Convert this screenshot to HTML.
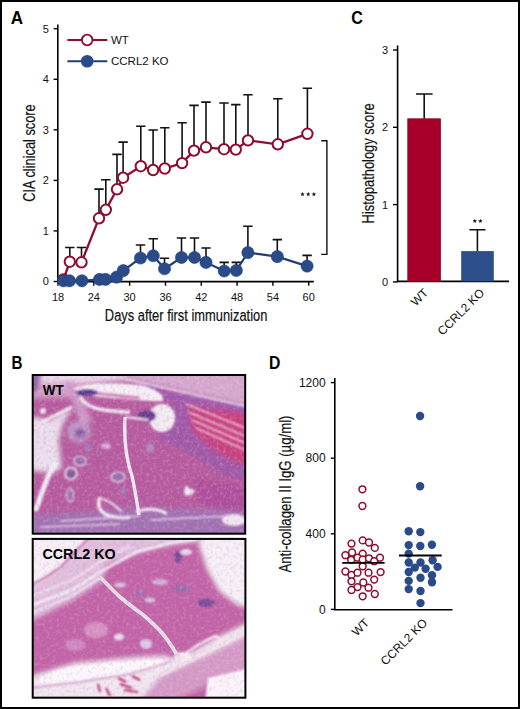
<!DOCTYPE html>
<html><head><meta charset="utf-8"><style>
html,body{margin:0;padding:0;background:#fff;}
body{width:520px;height:709px;overflow:hidden;position:relative;}
#fig{position:absolute;left:0;top:0;width:520px;height:709px;box-sizing:border-box;border:2px solid #000;background:#fff;}
svg{position:absolute;left:0;top:0;font-family:"Liberation Sans", sans-serif;}
</style></head><body>
<div id="fig"></div>
<svg width="520" height="709" viewBox="0 0 520 709">
<defs>
<clipPath id="c1"><rect x="32.7" y="375" width="212.5" height="158.7"/></clipPath>
<clipPath id="c2"><rect x="32.7" y="538.9" width="212.7" height="158.8"/></clipPath>
<filter id="b1" x="-20%" y="-20%" width="140%" height="140%"><feGaussianBlur stdDeviation="1.2"/></filter>
<filter id="b2" x="-20%" y="-20%" width="140%" height="140%"><feGaussianBlur stdDeviation="2.5"/></filter>
<filter id="b3" x="-20%" y="-20%" width="140%" height="140%"><feGaussianBlur stdDeviation="0.6"/></filter>
<filter id="tw" x="0" y="0" width="100%" height="100%"><feTurbulence type="fractalNoise" baseFrequency="0.3" numOctaves="3" seed="4"/><feColorMatrix type="matrix" values="0 0 0 0 0.97  0 0 0 0 0.9  0 0 0 0 0.96  2 0 0 0 -0.95"/></filter>
<filter id="td" x="0" y="0" width="100%" height="100%"><feTurbulence type="fractalNoise" baseFrequency="0.3" numOctaves="3" seed="9"/><feColorMatrix type="matrix" values="0 0 0 0 0.45  0 0 0 0 0.2  0 0 0 0 0.55  2 0 0 0 -0.95"/></filter>
</defs>
<text transform="translate(10.7,23.7) scale(0.93,1)" font-size="18.4" text-anchor="start" font-weight="bold" fill="#000">A</text>
<path d="M57.8 24.6 V281.6 H313.8" fill="none" stroke="#000" stroke-width="1.6"/>
<line x1="53.6" y1="281.5" x2="57.8" y2="281.5" stroke="#000" stroke-width="1.4"/>
<text x="48.8" y="285.4" font-size="11" text-anchor="end" font-weight="normal" fill="#111" >0</text>
<line x1="53.6" y1="230.9" x2="57.8" y2="230.9" stroke="#000" stroke-width="1.4"/>
<text x="48.8" y="234.8" font-size="11" text-anchor="end" font-weight="normal" fill="#111" >1</text>
<line x1="53.6" y1="180.4" x2="57.8" y2="180.4" stroke="#000" stroke-width="1.4"/>
<text x="48.8" y="184.3" font-size="11" text-anchor="end" font-weight="normal" fill="#111" >2</text>
<line x1="53.6" y1="129.8" x2="57.8" y2="129.8" stroke="#000" stroke-width="1.4"/>
<text x="48.8" y="133.70000000000002" font-size="11" text-anchor="end" font-weight="normal" fill="#111" >3</text>
<line x1="53.6" y1="79.3" x2="57.8" y2="79.3" stroke="#000" stroke-width="1.4"/>
<text x="48.8" y="83.2" font-size="11" text-anchor="end" font-weight="normal" fill="#111" >4</text>
<line x1="53.6" y1="28.7" x2="57.8" y2="28.7" stroke="#000" stroke-width="1.4"/>
<text x="48.8" y="32.6" font-size="11" text-anchor="end" font-weight="normal" fill="#111" >5</text>
<line x1="58.0" y1="281.6" x2="58.0" y2="285.8" stroke="#000" stroke-width="1.4"/>
<text x="58.0" y="300.9" font-size="11" text-anchor="middle" font-weight="normal" fill="#111" >18</text>
<line x1="93.8" y1="281.6" x2="93.8" y2="285.8" stroke="#000" stroke-width="1.4"/>
<text x="93.8" y="300.9" font-size="11" text-anchor="middle" font-weight="normal" fill="#111" >24</text>
<line x1="129.6" y1="281.6" x2="129.6" y2="285.8" stroke="#000" stroke-width="1.4"/>
<text x="129.6" y="300.9" font-size="11" text-anchor="middle" font-weight="normal" fill="#111" >30</text>
<line x1="165.5" y1="281.6" x2="165.5" y2="285.8" stroke="#000" stroke-width="1.4"/>
<text x="165.5" y="300.9" font-size="11" text-anchor="middle" font-weight="normal" fill="#111" >36</text>
<line x1="201.3" y1="281.6" x2="201.3" y2="285.8" stroke="#000" stroke-width="1.4"/>
<text x="201.3" y="300.9" font-size="11" text-anchor="middle" font-weight="normal" fill="#111" >42</text>
<line x1="237.1" y1="281.6" x2="237.1" y2="285.8" stroke="#000" stroke-width="1.4"/>
<text x="237.1" y="300.9" font-size="11" text-anchor="middle" font-weight="normal" fill="#111" >48</text>
<line x1="272.9" y1="281.6" x2="272.9" y2="285.8" stroke="#000" stroke-width="1.4"/>
<text x="272.9" y="300.9" font-size="11" text-anchor="middle" font-weight="normal" fill="#111" >54</text>
<line x1="308.7" y1="281.6" x2="308.7" y2="285.8" stroke="#000" stroke-width="1.4"/>
<text x="308.7" y="300.9" font-size="11" text-anchor="middle" font-weight="normal" fill="#111" >60</text>
<text x="186.1" y="321.1" font-size="16.3" text-anchor="middle" fill="#111" stroke="#111" stroke-width="0.2" textLength="162.5" lengthAdjust="spacingAndGlyphs">Days after first immunization</text>
<text transform="translate(34.5,153.0) rotate(-90)" x="0" y="0" font-size="16.3" text-anchor="middle" fill="#111" stroke="#111" stroke-width="0.2" textLength="97.5" lengthAdjust="spacingAndGlyphs">CIA clinical score</text>
<path d="M69.8 256.7 V247.5 M65.1 247.5 H74.5" stroke="#111" stroke-width="1.6" fill="none"/>
<path d="M81.5 257.3 V247.5 M76.8 247.5 H86.2" stroke="#111" stroke-width="1.6" fill="none"/>
<path d="M99 213.3 V189.1 M94.3 189.1 H103.7" stroke="#111" stroke-width="1.6" fill="none"/>
<path d="M105.8 204.8 V179.8 M101.1 179.8 H110.5" stroke="#111" stroke-width="1.6" fill="none"/>
<path d="M117 184.3 V154.4 M112.3 154.4 H121.7" stroke="#111" stroke-width="1.6" fill="none"/>
<path d="M123.1 172.7 V142.1 M118.39999999999999 142.1 H127.8" stroke="#111" stroke-width="1.6" fill="none"/>
<path d="M140.8 161.2 V126.2 M136.10000000000002 126.2 H145.5" stroke="#111" stroke-width="1.6" fill="none"/>
<path d="M153.1 165 V130 M148.4 130 H157.79999999999998" stroke="#111" stroke-width="1.6" fill="none"/>
<path d="M164.8 163.5 V127.7 M160.10000000000002 127.7 H169.5" stroke="#111" stroke-width="1.6" fill="none"/>
<path d="M182.1 158.1 V122.7 M177.4 122.7 H186.79999999999998" stroke="#111" stroke-width="1.6" fill="none"/>
<path d="M194 145.6 V105.4 M189.3 105.4 H198.7" stroke="#111" stroke-width="1.6" fill="none"/>
<path d="M206 142.3 V102.1 M201.3 102.1 H210.7" stroke="#111" stroke-width="1.6" fill="none"/>
<path d="M224 144.2 V103 M219.3 103 H228.7" stroke="#111" stroke-width="1.6" fill="none"/>
<path d="M235.8 144.6 V104.6 M231.10000000000002 104.6 H240.5" stroke="#111" stroke-width="1.6" fill="none"/>
<path d="M248 135.4 V94.7 M243.3 94.7 H252.7" stroke="#111" stroke-width="1.6" fill="none"/>
<path d="M277.8 139.3 V98.8 M273.1 98.8 H282.5" stroke="#111" stroke-width="1.6" fill="none"/>
<path d="M307.4 128.8 V88.3 M302.7 88.3 H312.09999999999997" stroke="#111" stroke-width="1.6" fill="none"/>
<polyline points="63.5,279.5 69.8,261.7 81.5,262.3 99,218.3 105.8,209.8 117,189.3 123.1,177.7 140.8,166.2 153.1,170 164.8,168.5 182.1,163.1 194,150.6 206,147.3 224,149.2 235.8,149.6 248,140.4 277.8,144.3 307.4,133.8" fill="none" stroke="#8e0c2e" stroke-width="2.3"/>
<circle cx="63.5" cy="279.5" r="5.2" fill="#fff" stroke="#8e0c2e" stroke-width="2"/>
<circle cx="69.8" cy="261.7" r="5.2" fill="#fff" stroke="#8e0c2e" stroke-width="2"/>
<circle cx="81.5" cy="262.3" r="5.2" fill="#fff" stroke="#8e0c2e" stroke-width="2"/>
<circle cx="99" cy="218.3" r="5.2" fill="#fff" stroke="#8e0c2e" stroke-width="2"/>
<circle cx="105.8" cy="209.8" r="5.2" fill="#fff" stroke="#8e0c2e" stroke-width="2"/>
<circle cx="117" cy="189.3" r="5.2" fill="#fff" stroke="#8e0c2e" stroke-width="2"/>
<circle cx="123.1" cy="177.7" r="5.2" fill="#fff" stroke="#8e0c2e" stroke-width="2"/>
<circle cx="140.8" cy="166.2" r="5.2" fill="#fff" stroke="#8e0c2e" stroke-width="2"/>
<circle cx="153.1" cy="170" r="5.2" fill="#fff" stroke="#8e0c2e" stroke-width="2"/>
<circle cx="164.8" cy="168.5" r="5.2" fill="#fff" stroke="#8e0c2e" stroke-width="2"/>
<circle cx="182.1" cy="163.1" r="5.2" fill="#fff" stroke="#8e0c2e" stroke-width="2"/>
<circle cx="194" cy="150.6" r="5.2" fill="#fff" stroke="#8e0c2e" stroke-width="2"/>
<circle cx="206" cy="147.3" r="5.2" fill="#fff" stroke="#8e0c2e" stroke-width="2"/>
<circle cx="224" cy="149.2" r="5.2" fill="#fff" stroke="#8e0c2e" stroke-width="2"/>
<circle cx="235.8" cy="149.6" r="5.2" fill="#fff" stroke="#8e0c2e" stroke-width="2"/>
<circle cx="248" cy="140.4" r="5.2" fill="#fff" stroke="#8e0c2e" stroke-width="2"/>
<circle cx="277.8" cy="144.3" r="5.2" fill="#fff" stroke="#8e0c2e" stroke-width="2"/>
<circle cx="307.4" cy="133.8" r="5.2" fill="#fff" stroke="#8e0c2e" stroke-width="2"/>
<path d="M140.5 253 V245 M135.8 245 H145.2" stroke="#111" stroke-width="1.6" fill="none"/>
<path d="M153.25 250.75 V238.75 M148.55 238.75 H157.95" stroke="#111" stroke-width="1.6" fill="none"/>
<path d="M164.5 263.75 V258.25 M159.8 258.25 H169.2" stroke="#111" stroke-width="1.6" fill="none"/>
<path d="M181.5 252.5 V238 M176.8 238 H186.2" stroke="#111" stroke-width="1.6" fill="none"/>
<path d="M194.5 252.5 V238 M189.8 238 H199.2" stroke="#111" stroke-width="1.6" fill="none"/>
<path d="M206 257.4 V248 M201.3 248 H210.7" stroke="#111" stroke-width="1.6" fill="none"/>
<path d="M224.2 266 V262.4 M219.5 262.4 H228.89999999999998" stroke="#111" stroke-width="1.6" fill="none"/>
<path d="M236.3 265.5 V262.4 M231.60000000000002 262.4 H241.0" stroke="#111" stroke-width="1.6" fill="none"/>
<path d="M247.9 247.6 V226.3 M243.20000000000002 226.3 H252.6" stroke="#111" stroke-width="1.6" fill="none"/>
<path d="M277.3 251.60000000000002 V239.6 M272.6 239.6 H282.0" stroke="#111" stroke-width="1.6" fill="none"/>
<path d="M307.1 261.1 V255.4 M302.40000000000003 255.4 H311.8" stroke="#111" stroke-width="1.6" fill="none"/>
<polyline points="63.5,280.8 69.5,280.8 81.9,280.8 99.5,279.4 105.5,279.4 116.5,277.2 123.3,270.6 140.5,258 153.25,255.75 164.5,268.75 181.5,257.5 194.5,257.5 206,262.4 224.2,271 236.3,270.5 247.9,252.6 277.3,256.6 307.1,266.1" fill="none" stroke="#223f73" stroke-width="2.2"/>
<circle cx="63.5" cy="280.8" r="6.1" fill="#2b4b88" stroke="#213f78" stroke-width="0.6"/>
<circle cx="69.5" cy="280.8" r="6.1" fill="#2b4b88" stroke="#213f78" stroke-width="0.6"/>
<circle cx="81.9" cy="280.8" r="6.1" fill="#2b4b88" stroke="#213f78" stroke-width="0.6"/>
<circle cx="99.5" cy="279.4" r="6.1" fill="#2b4b88" stroke="#213f78" stroke-width="0.6"/>
<circle cx="105.5" cy="279.4" r="6.1" fill="#2b4b88" stroke="#213f78" stroke-width="0.6"/>
<circle cx="116.5" cy="277.2" r="6.1" fill="#2b4b88" stroke="#213f78" stroke-width="0.6"/>
<circle cx="123.3" cy="270.6" r="6.1" fill="#2b4b88" stroke="#213f78" stroke-width="0.6"/>
<circle cx="140.5" cy="258" r="6.1" fill="#2b4b88" stroke="#213f78" stroke-width="0.6"/>
<circle cx="153.25" cy="255.75" r="6.1" fill="#2b4b88" stroke="#213f78" stroke-width="0.6"/>
<circle cx="164.5" cy="268.75" r="6.1" fill="#2b4b88" stroke="#213f78" stroke-width="0.6"/>
<circle cx="181.5" cy="257.5" r="6.1" fill="#2b4b88" stroke="#213f78" stroke-width="0.6"/>
<circle cx="194.5" cy="257.5" r="6.1" fill="#2b4b88" stroke="#213f78" stroke-width="0.6"/>
<circle cx="206" cy="262.4" r="6.1" fill="#2b4b88" stroke="#213f78" stroke-width="0.6"/>
<circle cx="224.2" cy="271" r="6.1" fill="#2b4b88" stroke="#213f78" stroke-width="0.6"/>
<circle cx="236.3" cy="270.5" r="6.1" fill="#2b4b88" stroke="#213f78" stroke-width="0.6"/>
<circle cx="247.9" cy="252.6" r="6.1" fill="#2b4b88" stroke="#213f78" stroke-width="0.6"/>
<circle cx="277.3" cy="256.6" r="6.1" fill="#2b4b88" stroke="#213f78" stroke-width="0.6"/>
<circle cx="307.1" cy="266.1" r="6.1" fill="#2b4b88" stroke="#213f78" stroke-width="0.6"/>
<path d="M321.2 140.7 H326.9 V254.4 H321.2" fill="none" stroke="#111" stroke-width="1.4"/>
<polygon points="302.50,191.80 303.09,193.39 304.78,193.46 303.45,194.51 303.91,196.14 302.50,195.20 301.09,196.14 301.55,194.51 300.22,193.46 301.91,193.39" fill="#111"/>
<polygon points="308.20,191.80 308.79,193.39 310.48,193.46 309.15,194.51 309.61,196.14 308.20,195.20 306.79,196.14 307.25,194.51 305.92,193.46 307.61,193.39" fill="#111"/>
<polygon points="313.90,191.80 314.49,193.39 316.18,193.46 314.85,194.51 315.31,196.14 313.90,195.20 312.49,196.14 312.95,194.51 311.62,193.46 313.31,193.39" fill="#111"/>
<line x1="67.4" y1="40" x2="107.3" y2="40" stroke="#8e0c2e" stroke-width="2"/>
<circle cx="87.2" cy="40" r="5.3" fill="#fff" stroke="#8e0c2e" stroke-width="1.8"/>
<line x1="67.4" y1="61.2" x2="107.3" y2="61.2" stroke="#223f73" stroke-width="2"/>
<circle cx="87.2" cy="61.2" r="6.3" fill="#2b4b88"/>
<text x="111" y="44.0" font-size="11.5" text-anchor="start" font-weight="normal" fill="#111" >WT</text>
<text x="111" y="65.2" font-size="11.5" text-anchor="start" font-weight="normal" fill="#111" >CCRL2 KO</text>
<text transform="translate(351.2,23.6) scale(0.88,1)" font-size="18.3" text-anchor="start" font-weight="bold" fill="#000">C</text>
<path d="M397.6 45.4 V281.4 H509" fill="none" stroke="#000" stroke-width="1.6"/>
<line x1="393" y1="281.9" x2="397.6" y2="281.9" stroke="#000" stroke-width="1.4"/>
<text x="388" y="285.8" font-size="11" text-anchor="end" font-weight="normal" fill="#111" >0</text>
<line x1="393" y1="204.6" x2="397.6" y2="204.6" stroke="#000" stroke-width="1.4"/>
<text x="388" y="208.5" font-size="11" text-anchor="end" font-weight="normal" fill="#111" >1</text>
<line x1="393" y1="127.3" x2="397.6" y2="127.3" stroke="#000" stroke-width="1.4"/>
<text x="388" y="131.2" font-size="11" text-anchor="end" font-weight="normal" fill="#111" >2</text>
<line x1="393" y1="50.0" x2="397.6" y2="50.0" stroke="#000" stroke-width="1.4"/>
<text x="388" y="53.9" font-size="11" text-anchor="end" font-weight="normal" fill="#111" >3</text>
<path d="M424.2 118.8 V94 M416 94 H432.6" stroke="#111" stroke-width="1.6" fill="none"/>
<rect x="407.8" y="118.8" width="32.6" height="162.6" fill="#a6002a" stroke="#8c0022" stroke-width="0.8"/>
<path d="M477.4 251 V229.7 M469.4 229.7 H485.5" stroke="#111" stroke-width="1.6" fill="none"/>
<rect x="461.2" y="251.1" width="32.6" height="30.3" fill="#2c4e8a"/>
<polygon points="474.80,218.70 475.39,220.29 477.08,220.36 475.75,221.41 476.21,223.04 474.80,222.10 473.39,223.04 473.85,221.41 472.52,220.36 474.21,220.29" fill="#111"/>
<polygon points="480.40,218.70 480.99,220.29 482.68,220.36 481.35,221.41 481.81,223.04 480.40,222.10 478.99,223.04 479.45,221.41 478.12,220.36 479.81,220.29" fill="#111"/>
<text transform="translate(373.6,163.4) rotate(-90)" font-size="16.3" text-anchor="middle" fill="#111" stroke="#111" stroke-width="0.2" textLength="120" lengthAdjust="spacingAndGlyphs">Histopathology score</text>
<text transform="translate(429,293.6) rotate(-45)" font-size="12" text-anchor="end" fill="#111">WT</text>
<text transform="translate(485,293.6) rotate(-45)" font-size="12" text-anchor="end" fill="#111">CCRL2 KO</text>
<text transform="translate(269.0,369.4) scale(0.86,1)" font-size="18.3" text-anchor="start" font-weight="bold" fill="#000">D</text>
<path d="M334.8 378 V609.7 H452.5" fill="none" stroke="#000" stroke-width="1.6"/>
<line x1="330.8" y1="609.4" x2="334.8" y2="609.4" stroke="#000" stroke-width="1.4"/>
<text x="325.6" y="613.6" font-size="12" text-anchor="end" font-weight="normal" fill="#111" >0</text>
<line x1="330.8" y1="533.8" x2="334.8" y2="533.8" stroke="#000" stroke-width="1.4"/>
<text x="325.6" y="538.0" font-size="12" text-anchor="end" font-weight="normal" fill="#111" >400</text>
<line x1="330.8" y1="458.2" x2="334.8" y2="458.2" stroke="#000" stroke-width="1.4"/>
<text x="325.6" y="462.4" font-size="12" text-anchor="end" font-weight="normal" fill="#111" >800</text>
<line x1="330.8" y1="382.6" x2="334.8" y2="382.6" stroke="#000" stroke-width="1.4"/>
<text x="325.6" y="386.8" font-size="12" text-anchor="end" font-weight="normal" fill="#111" >1200</text>
<text transform="translate(291.3,494) rotate(-90)" font-size="16.3" text-anchor="middle" fill="#111" stroke="#111" stroke-width="0.2" textLength="157" lengthAdjust="spacingAndGlyphs">Anti-collagen II IgG (µg/ml)</text>
<text transform="translate(370,623.6) rotate(-45)" font-size="12" text-anchor="end" fill="#111">WT</text>
<text transform="translate(428,623.6) rotate(-45)" font-size="12" text-anchor="end" fill="#111">CCRL2 KO</text>
<circle cx="351.5" cy="543.6" r="3.4" fill="#fff" stroke="#8e0c2e" stroke-width="1.5"/>
<circle cx="362.7" cy="540.4" r="3.4" fill="#fff" stroke="#8e0c2e" stroke-width="1.5"/>
<circle cx="369.0" cy="542.5" r="3.4" fill="#fff" stroke="#8e0c2e" stroke-width="1.5"/>
<circle cx="374.8" cy="547.9" r="3.4" fill="#fff" stroke="#8e0c2e" stroke-width="1.5"/>
<circle cx="345.4" cy="555.2" r="3.4" fill="#fff" stroke="#8e0c2e" stroke-width="1.5"/>
<circle cx="352.1" cy="552.5" r="3.4" fill="#fff" stroke="#8e0c2e" stroke-width="1.5"/>
<circle cx="362.7" cy="553.7" r="3.4" fill="#fff" stroke="#8e0c2e" stroke-width="1.5"/>
<circle cx="380.0" cy="557.7" r="3.4" fill="#fff" stroke="#8e0c2e" stroke-width="1.5"/>
<circle cx="351.2" cy="559.8" r="3.4" fill="#fff" stroke="#8e0c2e" stroke-width="1.5"/>
<circle cx="357.5" cy="557.7" r="3.4" fill="#fff" stroke="#8e0c2e" stroke-width="1.5"/>
<circle cx="362.7" cy="559.4" r="3.4" fill="#fff" stroke="#8e0c2e" stroke-width="1.5"/>
<circle cx="369" cy="558.3" r="3.4" fill="#fff" stroke="#8e0c2e" stroke-width="1.5"/>
<circle cx="374.2" cy="561.2" r="3.4" fill="#fff" stroke="#8e0c2e" stroke-width="1.5"/>
<circle cx="362.7" cy="566.3" r="3.4" fill="#fff" stroke="#8e0c2e" stroke-width="1.5"/>
<circle cx="345.4" cy="571.5" r="3.4" fill="#fff" stroke="#8e0c2e" stroke-width="1.5"/>
<circle cx="351.5" cy="575" r="3.4" fill="#fff" stroke="#8e0c2e" stroke-width="1.5"/>
<circle cx="357.5" cy="572.7" r="3.4" fill="#fff" stroke="#8e0c2e" stroke-width="1.5"/>
<circle cx="368.5" cy="572.7" r="3.4" fill="#fff" stroke="#8e0c2e" stroke-width="1.5"/>
<circle cx="380.6" cy="572.1" r="3.4" fill="#fff" stroke="#8e0c2e" stroke-width="1.5"/>
<circle cx="351.5" cy="581.3" r="3.4" fill="#fff" stroke="#8e0c2e" stroke-width="1.5"/>
<circle cx="363.3" cy="582.5" r="3.4" fill="#fff" stroke="#8e0c2e" stroke-width="1.5"/>
<circle cx="374.2" cy="579.6" r="3.4" fill="#fff" stroke="#8e0c2e" stroke-width="1.5"/>
<circle cx="357.5" cy="587.1" r="3.4" fill="#fff" stroke="#8e0c2e" stroke-width="1.5"/>
<circle cx="368.5" cy="587.7" r="3.4" fill="#fff" stroke="#8e0c2e" stroke-width="1.5"/>
<circle cx="351.5" cy="590" r="3.4" fill="#fff" stroke="#8e0c2e" stroke-width="1.5"/>
<circle cx="374.8" cy="594" r="3.4" fill="#fff" stroke="#8e0c2e" stroke-width="1.5"/>
<circle cx="362.7" cy="596.3" r="3.4" fill="#fff" stroke="#8e0c2e" stroke-width="1.5"/>
<circle cx="362.4" cy="489.3" r="3.4" fill="#fff" stroke="#8e0c2e" stroke-width="1.5"/>
<circle cx="362.4" cy="506" r="3.4" fill="#fff" stroke="#8e0c2e" stroke-width="1.5"/>
<line x1="342.2" y1="562.9" x2="384.6" y2="562.9" stroke="#000" stroke-width="1.8"/>
<circle cx="408.7" cy="531.2" r="4.2" fill="#2b4b88"/>
<circle cx="420.3" cy="532.1" r="4.2" fill="#2b4b88"/>
<circle cx="408.7" cy="545.1" r="4.2" fill="#2b4b88"/>
<circle cx="420.3" cy="546" r="4.2" fill="#2b4b88"/>
<circle cx="431.9" cy="544.7" r="4.2" fill="#2b4b88"/>
<circle cx="408.7" cy="553.6" r="4.2" fill="#2b4b88"/>
<circle cx="408.7" cy="562.5" r="4.2" fill="#2b4b88"/>
<circle cx="432.6" cy="560.3" r="4.2" fill="#2b4b88"/>
<circle cx="420.5" cy="562.5" r="4.2" fill="#2b4b88"/>
<circle cx="414.8" cy="567.6" r="4.2" fill="#2b4b88"/>
<circle cx="425.6" cy="568.8" r="4.2" fill="#2b4b88"/>
<circle cx="437.6" cy="566.9" r="4.2" fill="#2b4b88"/>
<circle cx="408.7" cy="572" r="4.2" fill="#2b4b88"/>
<circle cx="432" cy="575.2" r="4.2" fill="#2b4b88"/>
<circle cx="420.5" cy="577.7" r="4.2" fill="#2b4b88"/>
<circle cx="408.7" cy="580.9" r="4.2" fill="#2b4b88"/>
<circle cx="432" cy="582.2" r="4.2" fill="#2b4b88"/>
<circle cx="408.7" cy="589.1" r="4.2" fill="#2b4b88"/>
<circle cx="420.5" cy="591" r="4.2" fill="#2b4b88"/>
<circle cx="420.5" cy="603.1" r="4.2" fill="#2b4b88"/>
<circle cx="420.1" cy="416" r="4.2" fill="#2b4b88"/>
<circle cx="420.1" cy="486.2" r="4.2" fill="#2b4b88"/>
<line x1="399" y1="555.5" x2="441.7" y2="555.5" stroke="#000" stroke-width="1.8"/>
<text transform="translate(11.6,369.0) scale(0.83,1)" font-size="18.3" text-anchor="start" font-weight="bold" fill="#000">B</text>
<g><rect x="32.7" y="375" width="212.5" height="158.7" fill="#c65a9c"/><g clip-path="url(#c1)">
<g filter="url(#b2)">
<rect x="30" y="372" width="220" height="165" fill="#b65a9d"/>
<polygon points="30,372 125,372 100,383 80,387 72,397 30,398" fill="#d4a0c8"/>
<polygon points="30,372 250,372 250,376 130,380 80,382 30,383" fill="#ecdcec"/>
<polygon points="110,372 250,372 250,406 200,395 165,387 130,380" fill="#d6a8ce"/>
<polygon points="140,383 250,407 250,417 190,406 150,397" fill="#a058aa"/>
<polygon points="186,405 250,414 250,467 229,459 210,448 193,431 187,418" fill="#c8407a"/>
<polygon points="158,438 168,418 174,402 186,404 193,431 210,448 229,459 250,467 250,483 225,475 203,462 182,450" fill="#a058a6"/>
<polygon points="30,515 103,510 140,507 250,511 250,540 30,540" fill="#a070b0"/>
<polygon points="195,478 250,488 250,512 200,505" fill="#ae4e9a"/>
<polygon points="30,417 50,421 72,407 62,424 58,440 61,468 50,472 30,470" fill="#ecdeec"/><polygon points="30,372 42,372 38,390 30,396" fill="#8c5c9e"/><polygon points="64,380 74,381 92,422 82,425" fill="#d09ac8"/>
<ellipse cx="79" cy="432" rx="11" ry="10" fill="#c8a0d0"/><ellipse cx="80" cy="433" rx="6" ry="5" fill="#7a4a96"/>
</g>
<g filter="url(#b1)">
<path d="M74,389 C80,383 110,382 140,385 C155,388 165,395 163,401 C150,402 130,399 110,398 C95,397 85,395 74,389 Z" fill="#f6eef4"/>
<path d="M86,392 C100,394 120,396 140,398" stroke="#cc7ab0" stroke-width="3" fill="none"/>
<path d="M80,397 C84,404 91,408 104,410 C114,411 122,412 130,412" stroke="#f6eef4" stroke-width="3.5" fill="none"/>
<ellipse cx="162" cy="418" rx="13" ry="14" fill="#f4ecf2"/>
<ellipse cx="87" cy="392.5" rx="11" ry="3.5" fill="#5a3a8c"/>
<ellipse cx="147" cy="416" rx="9" ry="6" fill="#6a3a8a"/>


<path d="M125,417 L148,420" stroke="#f6eef4" stroke-width="2" fill="none"/>
<path d="M57,462 L51,471 C47,478 44,487 41,495 C39,502 37,507 35,511" stroke="#f6eef4" stroke-width="5" fill="none"/>
<path d="M40,423 L72,407" stroke="#f6eef4" stroke-width="3" fill="none"/>
<path d="M100,497 C97,505 99,513 110,516 C118,518 125,518 130,517" stroke="#f6eef4" stroke-width="3.5" fill="none"/><path d="M102,499 C108,500 116,506 122,512" stroke="#f0e4f0" stroke-width="2" fill="none"/>
<path d="M136,512 C145,508 158,508 167,514" stroke="#f4ecf2" stroke-width="3" fill="none"/>
<ellipse cx="234" cy="520" rx="12" ry="6" fill="#f0e6f0"/>
<ellipse cx="43" cy="411" rx="3" ry="3" fill="#f0e6f0"/>
<path d="M186,485 L190,489 L195,490 L193,494 L186,496 L184,492 Z" fill="#f4ecf2"/>
<ellipse cx="71" cy="473.5" rx="6" ry="6" fill="#8a5aa0" stroke="#f4e8f2" stroke-width="1.6"/>
<ellipse cx="80" cy="461" rx="6" ry="5" fill="#9a6aaa" stroke="#ecdcec" stroke-width="1.2"/>
<ellipse cx="70" cy="495" rx="3.5" ry="7" fill="#a070b0" stroke="#ecdcec" stroke-width="1"/>
<ellipse cx="118" cy="477" rx="7" ry="5" fill="#9a6aaa" stroke="#f0e4f0" stroke-width="1.2"/>
<ellipse cx="123" cy="491" rx="3.5" ry="4" fill="#a878b8"/>
<ellipse cx="88" cy="448" rx="4" ry="4" fill="#a878b8"/>
<ellipse cx="150" cy="448" rx="4" ry="5" fill="#b486c0"/>
<ellipse cx="106" cy="446" rx="5" ry="3" fill="#d8b0d8"/>
<path d="M125,379 L245,406" stroke="#f4e8f2" stroke-width="1.5" fill="none"/>
<path d="M188,412 L245,436 M192,420 L245,443 M196,428 L245,450 M186,404 L245,428" stroke="#f0c8e0" stroke-width="1.5" fill="none"/>
<path d="M60,521 L140,516 M40,527 L120,524 M150,520 L230,516" stroke="#e8d4ec" stroke-width="1.5" fill="none"/>
</g>
<g filter="url(#b3)"><path d="M125,417 C124,436 126,459 132,476 C136,494 138,510 139,515" stroke="#f2eaf2" stroke-width="3.4" fill="none"/></g>
</g>
<rect x="32.7" y="375" width="212.5" height="158.7" filter="url(#tw)" opacity="0.28"/><rect x="32.7" y="375" width="212.5" height="158.7" filter="url(#td)" opacity="0.35"/></g>
<rect x="32.7" y="375" width="212.5" height="158.7" fill="none" stroke="#000" stroke-width="2"/>
<g><rect x="32.7" y="538.9" width="212.7" height="158.8" fill="#c65a9c"/><g clip-path="url(#c2)">
<g filter="url(#b2)">
<rect x="30" y="536" width="220" height="165" fill="#c264a6"/>
<polygon points="30,588 46,577 61,567 75,552 86,541 92,536 30,536" fill="#f6f0f6"/>
<polygon points="30,588 46,577 61,567 75,552 86,541 92,536 250,536 250,539 199,541 170,545 143,551 106,565 102,580 72,600 30,621" fill="#e0bedc"/>
<polygon points="199,543 208,570 220,591 237,604 250,608 250,536 205,536" fill="#f6f0f6"/>
<polygon points="30,677 55,669 76,663 108,660 144,657 165,656 178,660 192,654 205,646 219,637 250,622 250,634 205,656 161,676 140,701 30,701" fill="#f2e6f0"/>
<polygon points="140,701 161,676 205,656 250,634 250,672 214,681 175,701" fill="#d49ac6"/>

</g>
<g filter="url(#b1)">
<polyline points="30,586 46,577 61,567 75,552 86,541 92,536" fill="none" stroke="#b4488c" stroke-width="1.4"/>
<polyline points="30,606 72,590 100,572 136,552 170,543 199,539" fill="none" stroke="#f8f2f8" stroke-width="2.5"/>
<polyline points="30,597 72,580 100,562 130,546" fill="none" stroke="#f4eaf2" stroke-width="1.5"/>
<polyline points="30,614 72,596 100,578" fill="none" stroke="#f4eaf2" stroke-width="1.5"/>

<ellipse cx="183" cy="657" rx="9" ry="5" fill="#f6eef4"/>
<path d="M186,653 C196,646 206,640 216,636 C219,637 219,641 216,643" stroke="#f2eaf0" stroke-width="2.5" fill="none"/>
<path d="M157,671 L250,625 M160,676 L250,631" stroke="#f4eaf2" stroke-width="1.5" fill="none"/>
<polygon points="208,678 250,668 250,701 205,701" fill="#faf4f8"/>
<polygon points="40,678 55,671 76,666 108,663 144,660 165,660 160,668 120,674 80,680 40,684" fill="#fbf7fb"/>
<polyline points="30,688 80,682 130,674 170,662" fill="none" stroke="#d8a8cc" stroke-width="2"/>
<ellipse cx="119" cy="637" rx="5" ry="3.5" fill="#eadcec"/>
<ellipse cx="146" cy="644" rx="6" ry="5" fill="#dccce4"/>
<ellipse cx="178" cy="557" rx="4" ry="6" fill="#7a4a96"/>
<ellipse cx="186" cy="552" rx="6" ry="3" fill="#e8dcec"/>
<ellipse cx="120" cy="585" rx="6" ry="2.5" fill="#d8c4e0"/>
<ellipse cx="160" cy="582" rx="8" ry="3" fill="#d0b4d8"/>
<ellipse cx="150" cy="600" rx="5" ry="2.5" fill="#d8c4e0"/>
<ellipse cx="96" cy="630" rx="12" ry="8" fill="#d690c4"/>
<ellipse cx="75" cy="645" rx="10" ry="6" fill="#d088c0"/>
<ellipse cx="181" cy="589" rx="9" ry="4" fill="#9a6aaa"/>
<ellipse cx="206" cy="603" rx="9" ry="4" fill="#7a4a96"/>
<ellipse cx="140" cy="593" rx="5" ry="3" fill="#a070b0"/>
<path d="M118,678 L126,682 M120,684 L132,688 M124,690 L138,692 M98,684 L100,692 M106,688 L110,696 M132,676 L140,680" stroke="#b02464" stroke-width="2" fill="none"/>
</g>
<g filter="url(#b3)"><path d="M100,577 C106,583 113,591 120,597 C127,603 135,609 142,614 C148,619 156,626 162,633 C168,640 173,648 177,655 L180,659" stroke="#e6dee8" stroke-width="3.8" fill="none" stroke-linejoin="round"/></g>
</g>
<rect x="32.7" y="538.9" width="212.7" height="158.8" filter="url(#tw)" opacity="0.25"/><rect x="32.7" y="538.9" width="212.7" height="158.8" filter="url(#td)" opacity="0.3"/></g>
<rect x="32.7" y="538.9" width="212.7" height="158.8" fill="none" stroke="#000" stroke-width="2"/>
<text transform="translate(42.7,394.9) scale(0.91,1)" font-size="14.8" text-anchor="start" font-weight="bold" fill="#000">WT</text>
<text transform="translate(42.4,558.9) scale(0.97,1)" font-size="14.8" text-anchor="start" font-weight="bold" fill="#000">CCRL2 KO</text>
</svg>
</body></html>
